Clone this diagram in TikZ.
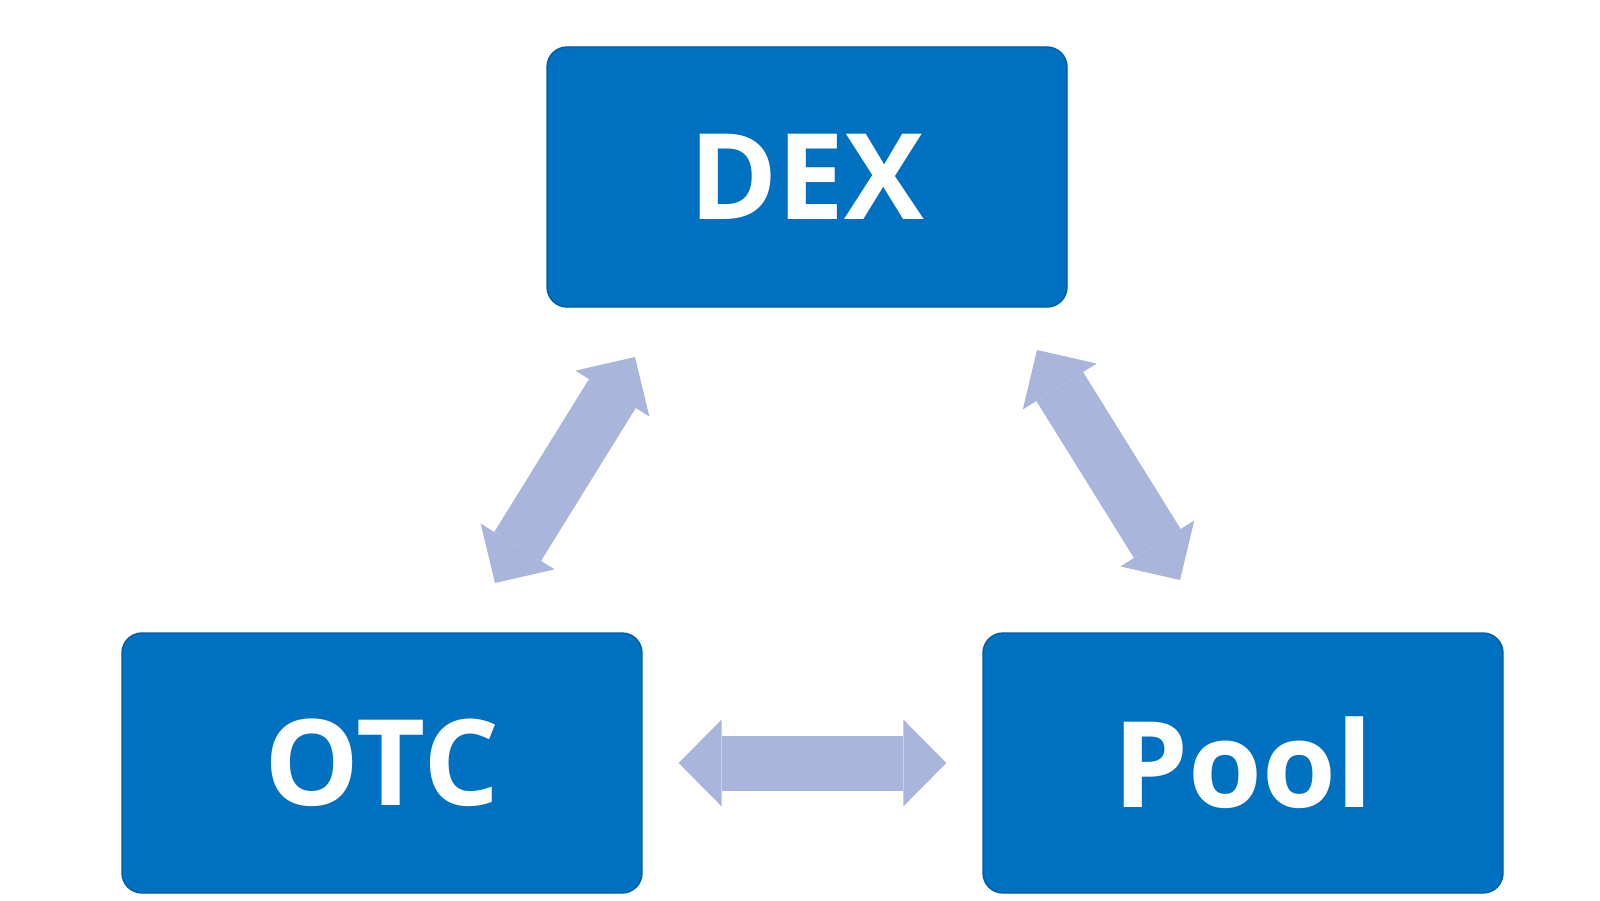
\documentclass[tikz,border=0pt]{standalone}
\usepackage{fontspec}
\setmainfont{Open Sans}
\usetikzlibrary{arrows.meta}
\definecolor{boxblue}{RGB}{0,112,192}
\definecolor{linkgray}{RGB}{170,181,220}
\begin{document}
\begin{tikzpicture}[
  market/.style={draw=boxblue!85!black, fill=boxblue, rounded corners=0.2cm,
    minimum width=5.2cm, minimum height=2.6cm, text=white,
    font=\fontsize{34}{40}\selectfont\bfseries},
  link/.style={draw=linkgray, line width=0.55cm,
    {Triangle[length=0.43cm,width=0.87cm,line width=0pt]}-{Triangle[length=0.43cm,width=0.87cm,line width=0pt]}}
]
\useasboundingbox (0,0) rectangle (16,9);
\node[market] (dex) at (8.07,7.23) {DEX};
\node[market] (otc) at (3.82,1.37) {OTC};
\node[market] (pool) at (12.43,1.37) {Pool};

\coordinate (otcup) at (4.95,3.17);
\coordinate (dexleft) at (6.35,5.43);
\coordinate (dexright) at (10.37,5.50);
\coordinate (poolup) at (11.80,3.20);
\draw[link] (otcup) -- (dexleft);
\draw[link] (dexright) -- (poolup);
\draw[link, shorten <=0.36cm, shorten >=0.36cm] (otc) -- (pool);

\end{tikzpicture}
\end{document}
